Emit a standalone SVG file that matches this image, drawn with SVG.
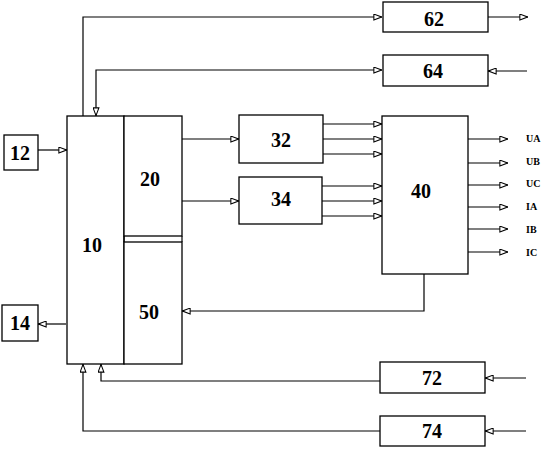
<svg xmlns="http://www.w3.org/2000/svg" width="542" height="450" viewBox="0 0 542 450">
<style>
.box{fill:#fff;stroke:#000;stroke-width:1.3}
.ln{fill:none;stroke:#000;stroke-width:1.2}
.num{font-family:"Liberation Serif","DejaVu Serif",serif;font-weight:bold;font-size:20px;text-anchor:middle;fill:#000}
.sig{font-family:"Liberation Serif","DejaVu Serif",serif;font-weight:bold;font-size:10px;fill:#000}
</style>
<defs>
<marker id="ah" viewBox="0 0 10 8" refX="10" refY="4" markerWidth="9" markerHeight="7" markerUnits="userSpaceOnUse" orient="auto">
<path d="M0.7,0.7 L9.5,4 L0.7,7.3 Z" fill="#fff" stroke="#000" stroke-width="1.2"/>
</marker>
<marker id="as" viewBox="0 0 10 8" refX="0" refY="4" markerWidth="9" markerHeight="7" markerUnits="userSpaceOnUse" orient="auto">
<path d="M9.3,0.7 L0.5,4 L9.3,7.3 Z" fill="#fff" stroke="#000" stroke-width="1.2"/>
</marker>
</defs>
<rect width="542" height="450" fill="#fff"/>
<g id="connectors">
<path class="ln" d="M83,116 V17 H382" marker-end="url(#ah)"/>
<path class="ln" d="M488,17 H528" marker-end="url(#ah)"/>
<path class="ln" d="M382,70 H96 V116" marker-start="url(#as)" marker-end="url(#ah)"/>
<path class="ln" d="M527,71 H488" marker-end="url(#ah)"/>
<path class="ln" d="M38,150 H67" marker-end="url(#ah)"/>
<path class="ln" d="M66,324 H38" marker-end="url(#ah)"/>
<path class="ln" d="M182,139 H239" marker-end="url(#ah)"/>
<path class="ln" d="M182,201 H239" marker-end="url(#ah)"/>
<path class="ln" d="M323,124 H382" marker-end="url(#ah)"/>
<path class="ln" d="M323,139 H382" marker-end="url(#ah)"/>
<path class="ln" d="M323,154 H382" marker-end="url(#ah)"/>
<path class="ln" d="M322,186 H382" marker-end="url(#ah)"/>
<path class="ln" d="M322,201 H382" marker-end="url(#ah)"/>
<path class="ln" d="M322,216 H382" marker-end="url(#ah)"/>
<path class="ln" d="M468,139 H508" marker-end="url(#ah)"/>
<path class="ln" d="M468,163 H508" marker-end="url(#ah)"/>
<path class="ln" d="M468,185 H508" marker-end="url(#ah)"/>
<path class="ln" d="M468,207 H508" marker-end="url(#ah)"/>
<path class="ln" d="M468,229 H508" marker-end="url(#ah)"/>
<path class="ln" d="M468,252 H508" marker-end="url(#ah)"/>
<path class="ln" d="M424,274 V311 H182" marker-end="url(#ah)"/>
<path class="ln" d="M380,381 H101 V364" marker-end="url(#ah)"/>
<path class="ln" d="M526,378 H485" marker-end="url(#ah)"/>
<path class="ln" d="M380,431 H83 V364" marker-end="url(#ah)"/>
<path class="ln" d="M526,431 H485" marker-end="url(#ah)"/>
</g>
<g id="n10"><rect class="box" x="67" y="116" width="57" height="248"/><text class="num" x="92" y="252">10</text></g>
<g id="n20"><rect class="box" x="124" y="116" width="58" height="120"/><text class="num" x="150" y="186">20</text></g>
<g id="n50"><rect class="box" x="124" y="242" width="58" height="122"/><line class="ln" x1="124" y1="236" x2="124" y2="242"/><line class="ln" x1="182" y1="236" x2="182" y2="242"/><text class="num" x="149" y="319">50</text></g>
<g id="n12"><rect class="box" x="4" y="135" width="34" height="35"/><text class="num" x="20" y="160">12</text></g>
<g id="n14"><rect class="box" x="2" y="305" width="36" height="36"/><text class="num" x="20" y="330">14</text></g>
<g id="n32"><rect class="box" x="239" y="115" width="84" height="48"/><text class="num" x="281" y="147">32</text></g>
<g id="n34"><rect class="box" x="239" y="177" width="83" height="47"/><text class="num" x="281" y="206">34</text></g>
<g id="n40"><rect class="box" x="382" y="116" width="86" height="158"/><text class="num" x="421" y="198">40</text></g>
<g id="n62"><rect class="box" x="383" y="2" width="105" height="30"/><text class="num" x="434" y="26">62</text></g>
<g id="n64"><rect class="box" x="383" y="55" width="105" height="31"/><text class="num" x="433" y="78">64</text></g>
<g id="n72"><rect class="box" x="380" y="362" width="105" height="31"/><text class="num" x="432" y="385">72</text></g>
<g id="n74"><rect class="box" x="380" y="416" width="105" height="30"/><text class="num" x="432" y="438">74</text></g>
<g id="labels">
<text class="sig" x="526" y="142">UA</text>
<text class="sig" x="526" y="165">UB</text>
<text class="sig" x="526" y="187">UC</text>
<text class="sig" x="526" y="210">IA</text>
<text class="sig" x="526" y="233">IB</text>
<text class="sig" x="526" y="256">IC</text>
</g>
</svg>
